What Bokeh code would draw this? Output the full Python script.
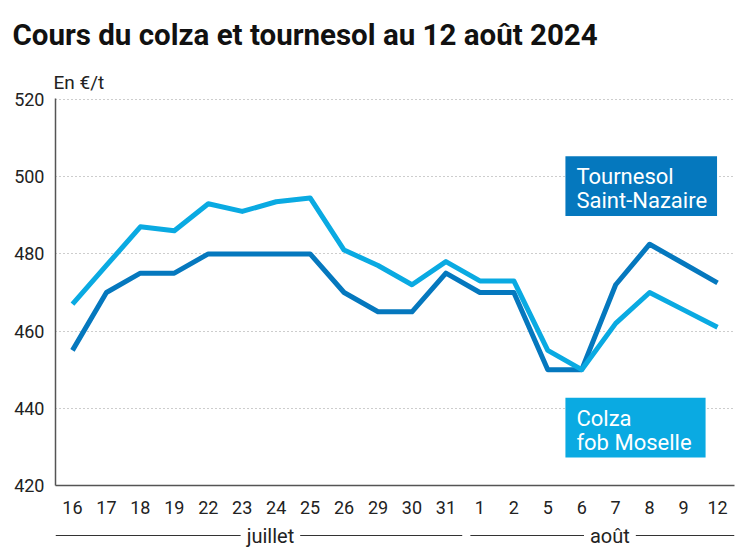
from bokeh.plotting import figure
from bokeh.models import Range1d, FixedTicker, Label, ColumnDataSource, Title
from bokeh.layouts import column
from bokeh.embed import file_html
from bokeh.resources import INLINE

days = ["16", "17", "18", "19", "22", "23", "24", "25", "26", "29", "30", "31",
        "1", "2", "5", "6", "7", "8", "9", "12"]
months = ["juillet", "août"]
month_sizes = [12, 8]
tournesol = [455, 470, 475, 475, 480, 480, 480, 480, 470, 465, 465, 475,
             470, 470, 450, 450, 472, 482.5, 477.5, 472.5]
colza = [467, 477, 487, 486, 493, 491, 493.5, 494.5, 481, 477, 472, 478,
         473, 473, 455, 450, 462, 470, 465.5, 461]
y_ticks = [420, 440, 460, 480, 500, 520]
title = "Cours du colza et tournesol au 12 août 2024"
unit = "En €/t"

DARK = "#0578BE"
LIGHT = "#0AAAE2"
FONT = "Roboto"
W = 740

xs = list(range(len(days)))
src = ColumnDataSource(dict(x=xs, t=tournesol, c=colza))

p = figure(width=W, height=520, x_range=Range1d(-0.5, len(days) - 0.5),
           y_range=Range1d(y_ticks[0], y_ticks[-1] + 0.25), output_backend="svg",
           toolbar_location=None, min_border_left=55, min_border_right=6,
           min_border_top=98, min_border_bottom=35)
p.outline_line_color = None
p.xgrid.visible = False
p.ygrid.ticker = FixedTicker(ticks=y_ticks[1:])
p.ygrid.grid_line_color = "#9a9a9a"
p.ygrid.grid_line_dash = "1 3"
p.ygrid.grid_line_width = 1

p.yaxis.ticker = FixedTicker(ticks=y_ticks)
p.xaxis.ticker = FixedTicker(ticks=xs)
p.xaxis.major_label_overrides = {i: d for i, d in enumerate(days)}
for ax in (p.xaxis[0], p.yaxis[0]):
    ax.axis_line_color = "#555555"
    ax.axis_line_width = 1.5
    ax.major_tick_line_color = None
    ax.minor_tick_line_color = None
    ax.major_tick_out = 0
    ax.major_tick_in = 0
    ax.major_label_text_font = FONT
    ax.major_label_text_font_size = "18px"
    ax.major_label_text_color = "#222222"
p.yaxis.major_label_standoff = 11
p.xaxis.major_label_standoff = 15

p.add_layout(Title(text=unit, text_font=FONT, text_font_size="19px",
                   text_font_style="normal", text_color="#222222",
                   align="left", offset=-2, standoff=9), "above")
p.add_layout(Title(text=title, text_font=FONT, text_font_size="29.5px",
                   text_font_style="bold", text_color="#111111",
                   align="left", offset=-43, standoff=25), "above")

p.line("x", "t", source=src, line_color=DARK, line_width=5, line_join="round")
p.line("x", "c", source=src, line_color=LIGHT, line_width=5, line_join="round")

p.add_layout(Label(x=14.52, y=505.3, text="Tournesol\nSaint-Nazaire", text_font=FONT,
                   text_font_size="22px", text_color="white",
                   background_fill_color=DARK,
                   padding=dict(left=11, right=10, top=8, bottom=3), anchor="top_left",
                   text_line_height=0.95))
p.add_layout(Label(x=14.52, y=442.7, text="Colza\nfob Moselle", text_font=FONT,
                   text_font_size="22px", text_color="white",
                   background_fill_color=LIGHT,
                   padding=dict(left=11, right=14, top=8, bottom=3), anchor="top_left",
                   text_line_height=0.95))

# ---- month strip
p2 = figure(width=W, height=30, x_range=p.x_range, y_range=Range1d(0, 30),
            output_backend="svg", toolbar_location=None, min_border_left=55,
            min_border_right=6, min_border_top=0, min_border_bottom=0)
p2.axis.visible = False
p2.grid.visible = False
p2.outline_line_color = None
starts, ends, centers = [], [], []
pos = -0.5
for i, n in enumerate(month_sizes):
    s = pos + (0.0 if i == 0 else 0.22)
    e = pos + n - (0.02 if i == 0 else 0.0)
    starts.append(s)
    ends.append(e)
    centers.append(pos + n / 2 + 0.33)
    pos += n
p2.segment(x0=starts, x1=ends, y0=[15] * len(months), y1=[15] * len(months),
           line_color="#333333", line_width=1.2)
for m, cx in zip(months, centers):
    p2.add_layout(Label(x=cx, y=15, text=m, text_font=FONT, text_font_size="20px",
                        text_color="#222222", text_align="center",
                        text_baseline="middle", background_fill_color="white",
                        padding=dict(left=6, right=6, top=0, bottom=0)))

layout = column(p, p2, spacing=0)
open("out.html", "w").write(file_html(layout, INLINE))
